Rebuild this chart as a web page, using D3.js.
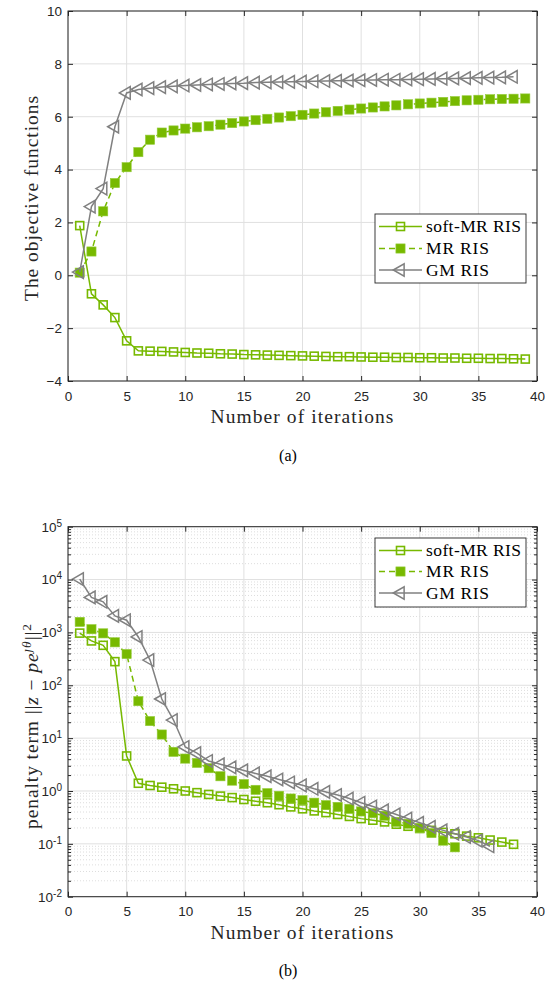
<!DOCTYPE html>
<html>
<head>
<meta charset="utf-8">
<script src="https://cdn.jsdelivr.net/npm/d3@7"></script>
<style>
  body { margin: 0; background: #fff; }
  svg { display: block; }
</style>
</head>
<body>
<script>
// ---- data -------------------------------------------------------------
const iterTicks = [0, 5, 10, 15, 20, 25, 30, 35, 40];
const objTicks = [-4, -2, 0, 2, 4, 6, 8, 10];
const penTicks = [1e-2, 1e-1, 1e0, 1e1, 1e2, 1e3, 1e4, 1e5];
const seriesNames = ["soft-MR RIS", "MR RIS", "GM RIS"];

// (a) objective function per iteration
const objSoftMR = [1.88, -0.70, -1.12, -1.60, -2.48, -2.86, -2.87, -2.88, -2.90, -2.92,
  -2.94, -2.95, -2.97, -2.98, -3.00, -3.01, -3.02, -3.03, -3.04, -3.05,
  -3.06, -3.07, -3.08, -3.08, -3.09, -3.10, -3.10, -3.11, -3.11, -3.12,
  -3.12, -3.13, -3.13, -3.14, -3.14, -3.15, -3.15, -3.16, -3.17];
const objMR = [0.10, 0.90, 2.42, 3.49, 4.09, 4.66, 5.13, 5.40, 5.48, 5.55,
  5.60, 5.64, 5.70, 5.76, 5.82, 5.87, 5.92, 5.97, 6.02, 6.07,
  6.12, 6.17, 6.22, 6.27, 6.31, 6.35, 6.39, 6.43, 6.47, 6.50,
  6.53, 6.56, 6.59, 6.62, 6.64, 6.66, 6.67, 6.68, 6.69];
const objGM = [0.12, 2.60, 3.28, 5.62, 6.90, 7.03, 7.08, 7.12, 7.15, 7.18,
  7.20, 7.22, 7.24, 7.26, 7.27, 7.29, 7.30, 7.31, 7.32, 7.33,
  7.34, 7.35, 7.36, 7.37, 7.38, 7.39, 7.40, 7.40, 7.41, 7.42,
  7.43, 7.44, 7.45, 7.46, 7.47, 7.48, 7.49, 7.51];

// (b) penalty term per iteration
const penSoftMR = [970, 690, 570, 280, 4.6, 1.40, 1.27, 1.18, 1.10, 1.00,
  0.93, 0.86, 0.80, 0.75, 0.69, 0.64, 0.60, 0.55, 0.50, 0.46,
  0.42, 0.39, 0.36, 0.33, 0.30, 0.28, 0.26, 0.235, 0.215, 0.195,
  0.18, 0.165, 0.155, 0.14, 0.13, 0.118, 0.108, 0.098];
const penMR = [1580, 1150, 960, 650, 390, 50, 21, 11.7, 5.5, 4.1,
  3.4, 2.7, 1.9, 1.57, 1.35, 1.05, 0.91, 0.81, 0.72, 0.67,
  0.60, 0.54, 0.50, 0.46, 0.41, 0.38, 0.34, 0.26, 0.24, 0.20,
  0.16, 0.115, 0.086];
const penGM = [10200, 4600, 3800, 2050, 1700, 820, 300, 55, 22, 6.8,
  5.2, 3.7, 3.2, 2.8, 2.45, 2.15, 1.9, 1.65, 1.45, 1.28,
  1.10, 0.96, 0.84, 0.72, 0.60, 0.51, 0.43, 0.36, 0.30, 0.25,
  0.21, 0.18, 0.155, 0.135, 0.115, 0.09];

// ---- style ------------------------------------------------------------
const W = 545, H = 982;
const GREEN = "#77b900", GRAY = "#808080", AXIS = "#262626";
const GRID = "#e0e0e0", MINOR = "#d4d4d4";
const SERIF = "'Liberation Serif', 'Times New Roman', serif";
const SANS = "'Liberation Sans', Arial, Helvetica, sans-serif";

const svg = d3.select("body").append("svg")
  .attr("width", W).attr("height", H)
  .attr("viewBox", `0 0 ${W} ${H}`);

const x = d3.scaleLinear().domain([0, 40]).range([68, 537]);

const styles = [
  { color: GREEN, dash: null, marker: "openSquare" },
  { color: GREEN, dash: "6,4", marker: "filledSquare" },
  { color: GRAY, dash: null, marker: "triangle" }
];

function drawMarker(g, kind, color, cx, cy) {
  if (kind === "triangle") {
    g.append("path")
      .attr("d", d3.symbol().type(d3.symbolTriangle).size(68)())
      .attr("transform", `translate(${cx},${cy}) rotate(-90)`)
      .attr("fill", "none").attr("stroke", color).attr("stroke-width", 1.5);
  } else if (kind === "openSquare") {
    g.append("rect").attr("x", cx - 4).attr("y", cy - 4)
      .attr("width", 8).attr("height", 8)
      .attr("fill", "none").attr("stroke", color).attr("stroke-width", 1.6);
  } else {
    g.append("rect").attr("x", cx - 4.6).attr("y", cy - 4.6)
      .attr("width", 9.2).attr("height", 9.2)
      .attr("fill", color).attr("stroke", "#95cc3a").attr("stroke-width", 0.6);
  }
}

// spread letters so a plain string fills a given width
function fitWidth(textSel, target) {
  const node = textSel.node();
  const len = node.getComputedTextLength();
  const n = (node.textContent || "").length;
  if (n > 1) textSel.attr("letter-spacing", ((target - len) / (n - 1)).toFixed(2));
}

function panel(y, ticks, series, opts) {
  const g = svg.append("g");
  const [y0, y1] = y.range();      // bottom, top
  const [x0, x1] = x.range();

  // minor grid (log axis)
  if (opts.log) {
    const minor = [];
    for (let e = -2; e < 5; e++) for (let k = 2; k < 10; k++) minor.push(k * Math.pow(10, e));
    g.append("g").selectAll("line").data(minor).join("line")
      .attr("x1", x0).attr("x2", x1)
      .attr("y1", d => y(d)).attr("y2", d => y(d))
      .attr("stroke", MINOR).attr("stroke-width", 0.8).attr("stroke-dasharray", "1,2");
    opts.minor = minor;
  }
  // major grid
  g.append("g").selectAll("line").data(iterTicks).join("line")
    .attr("x1", d => x(d)).attr("x2", d => x(d)).attr("y1", y0).attr("y2", y1)
    .attr("stroke", GRID).attr("stroke-width", 1);
  g.append("g").selectAll("line").data(ticks).join("line")
    .attr("x1", x0).attr("x2", x1).attr("y1", d => y(d)).attr("y2", d => y(d))
    .attr("stroke", GRID).attr("stroke-width", 1);

  // series
  series.forEach((vals, si) => {
    const st = styles[si];
    const pts = vals.map((v, i) => [i + 1, v]);
    const line = d3.line().x(d => x(d[0])).y(d => y(d[1]));
    g.append("path").datum(pts).attr("d", line)
      .attr("fill", "none").attr("stroke", st.color).attr("stroke-width", 1.5)
      .attr("stroke-dasharray", st.dash);
    const mg = g.append("g");
    pts.forEach(p => drawMarker(mg, st.marker, st.color, x(p[0]), y(p[1])));
  });

  // axes: inward ticks on all four sides
  const fmtNone = () => "";
  const ax = (axis, tx, ty) => {
    const a = g.append("g").attr("transform", `translate(${tx},${ty})`).call(axis);
    a.select(".domain").remove();
    a.selectAll("line").attr("stroke", AXIS);
    return a;
  };
  const bottom = ax(d3.axisBottom(x).tickValues(iterTicks).tickSize(-5).tickSizeOuter(0).tickPadding(10), 0, y0);
  ax(d3.axisTop(x).tickValues(iterTicks).tickSize(-5).tickSizeOuter(0).tickFormat(fmtNone), 0, y1);
  const left = ax(d3.axisLeft(y).tickValues(ticks).tickSize(-5).tickSizeOuter(0).tickPadding(6), x0, 0);
  ax(d3.axisRight(y).tickValues(ticks).tickSize(-5).tickSizeOuter(0).tickFormat(fmtNone), x1, 0);
  if (opts.log) {
    ax(d3.axisLeft(y).tickValues(opts.minor).tickSize(-3).tickSizeOuter(0).tickFormat(fmtNone), x0, 0);
    ax(d3.axisRight(y).tickValues(opts.minor).tickSize(-3).tickSizeOuter(0).tickFormat(fmtNone), x1, 0);
  }
  [bottom, left].forEach(a => a.selectAll("text")
    .attr("font-family", SANS).attr("font-size", 13.5).attr("fill", AXIS));

  if (opts.log) {
    left.selectAll(".tick text").each(function (d) {
      const t = d3.select(this);
      t.text(null);
      t.append("tspan").text("10");
      t.append("tspan").attr("dy", "-0.5em").attr("font-size", 10)
        .text(String(Math.round(Math.log10(d))));
    });
  }

  // box
  g.append("rect").attr("x", x0).attr("y", y1).attr("width", x1 - x0).attr("height", y0 - y1)
    .attr("fill", "none").attr("stroke", AXIS).attr("stroke-width", 1);

  // x label
  const xl = g.append("text").attr("x", (x0 + x1) / 2).attr("y", opts.xLabelY)
    .attr("text-anchor", "middle").attr("font-family", SERIF).attr("font-size", 19.5)
    .attr("fill", AXIS).text("Number of iterations");
  fitWidth(xl, 183);

  // caption
  g.append("text").attr("x", 288).attr("y", opts.captionY)
    .attr("text-anchor", "middle").attr("font-family", SERIF).attr("font-size", 16)
    .attr("fill", "#000").text(opts.caption);

  // legend
  const L = opts.legend;
  const lg = g.append("g");
  lg.append("rect").attr("x", L.x).attr("y", L.y).attr("width", L.w).attr("height", L.h)
    .attr("fill", "#fff").attr("stroke", AXIS).attr("stroke-width", 0.9);
  seriesNames.forEach((name, i) => {
    const st = styles[i];
    const ry = L.rows[i];
    lg.append("line").attr("x1", L.x + 4).attr("x2", L.x + 47).attr("y1", ry).attr("y2", ry)
      .attr("stroke", st.color).attr("stroke-width", 1.5).attr("stroke-dasharray", st.dash);
    drawMarker(lg, st.marker, st.color, L.x + 25.5, ry);
    const t = lg.append("text").attr("x", L.x + 51).attr("y", ry).attr("dy", "0.34em")
      .attr("font-family", SERIF).attr("font-size", 17.5).attr("fill", "#000").text(name);
    fitWidth(t, [95, 63, 63][i]);
  });
  return g;
}

// ---- (a) objective functions -----------------------------------------
const yObj = d3.scaleLinear().domain([-4, 10]).range([381, 11]);
panel(yObj, objTicks, [objSoftMR, objMR, objGM], {
  log: false, xLabelY: 423, captionY: 461, caption: "(a)",
  legend: { x: 375, y: 214, w: 151, h: 69, rows: [226.5, 248.5, 270] }
});
const yl1 = svg.append("text")
  .attr("transform", `translate(38,198) rotate(-90)`)
  .attr("text-anchor", "middle").attr("font-family", SERIF).attr("font-size", 19.5)
  .attr("fill", AXIS).text("The objective functions");
fitWidth(yl1, 205);

// ---- (b) penalty term -------------------------------------------------
const yPen = d3.scaleLog().domain([1e-2, 1e5]).range([896.7, 526.7]);
panel(yPen, penTicks, [penSoftMR, penMR, penGM], {
  log: true, xLabelY: 939, captionY: 976, caption: "(b)",
  legend: { x: 375, y: 538, w: 151, h: 69, rows: [550.5, 571.5, 593] }
});
const yl2 = svg.append("text")
  .attr("transform", `translate(38,726) rotate(-90)`)
  .attr("text-anchor", "middle").attr("font-family", SERIF).attr("font-size", 19.5)
  .attr("letter-spacing", 0.9)
  .attr("fill", AXIS);
yl2.append("tspan").text("penalty term ");
yl2.append("tspan").text("||");
yl2.append("tspan").attr("font-style", "italic").text("z");
yl2.append("tspan").text(" \u2212 ");
yl2.append("tspan").attr("font-style", "italic").text("pe");
yl2.append("tspan").attr("font-style", "italic").attr("font-size", 13.5).attr("dy", "-0.55em").text("\u0237\u03b8");
yl2.append("tspan").attr("dy", "0.39em").text("||");
yl2.append("tspan").attr("font-size", 13.5).attr("dy", "-0.55em").text("2");
</script>
</body>
</html>
